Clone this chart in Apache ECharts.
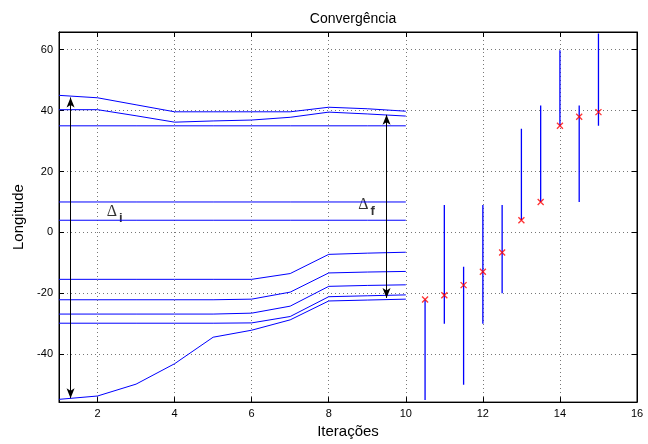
<!DOCTYPE html>
<html><head><meta charset="utf-8">
<script src="https://cdn.jsdelivr.net/npm/echarts@6/dist/echarts.min.js"></script>
<style>html,body{margin:0;padding:0;background:#fff}#c{width:648px;height:444px}</style>
</head><body><div id="c"></div>
<script>
// ---- data ----
var iterations = [1, 2, 3, 4, 5, 6, 7, 8, 9, 10];
var line1 = [45.0, 44.2, 41.9, 39.6, 39.6, 39.6, 39.6, 41.1, 40.6, 39.8];
var line2 = [40.3, 40.3, 38.3, 36.2, 36.6, 36.9, 37.8, 39.5, 38.9, 38.2];
var line3 = [35, 35, 35, 35, 35, 35, 35, 35, 35, 35];
var line4 = [10, 10, 10, 10, 10, 10, 10, 10, 10, 10];
var line5 = [4, 4, 4, 4, 4, 4, 4, 4, 4, 4];
var line6 = [-15.4, -15.4, -15.4, -15.4, -15.4, -15.4, -13.5, -7.2, -6.8, -6.5];
var line7 = [-22.1, -22.1, -22.1, -22.1, -22.1, -21.9, -19.6, -13.3, -13.0, -12.8];
var line8 = [-26.8, -26.8, -26.8, -26.8, -26.8, -26.5, -24.2, -17.7, -17.4, -17.2];
var line9 = [-29.8, -29.8, -29.8, -29.8, -29.8, -29.7, -27.6, -21.1, -20.8, -20.5];
var line10 = [-54.8, -53.7, -49.8, -43.1, -34.4, -32.1, -28.7, -22.5, -22.2, -21.9];

var finalX = [10.5, 11, 11.5, 12, 12.5, 13, 13.5, 14, 14.5, 15];
var finalY = [-22.0, -20.6, -17.3, -12.9, -6.6, 4.0, 10.0, 35.0, 38.0, 39.5];
var barLow = [-55.0, -30.0, -50.0, -30.0, -20.0, 4.0, 10.0, 35.0, 10.0, 35.0];
var barHigh = [-22.0, 9.0, -11.3, 9.0, 9.0, 34.0, 41.7, 59.8, 41.7, 65.3];

var deltaI = {x: 1.3, top: 44.3, bottom: -54.4, labelX: 2.34, labelY: 7.3};
var deltaF = {x: 9.5, top: 38.6, bottom: -21.5, labelX: 8.88, labelY: 9.6};

var xTicks = [2, 4, 6, 8, 10, 12, 14, 16];
var yTicks = [-40, -20, 0, 20, 40, 60];
var xRange = [1, 16];
var yRange = [-55.7, 65.8];

// ---- chart ----
var FONT = '"Liberation Sans", Arial, sans-serif';
var BLUE = '#0000ff';
var lines = [line1, line2, line3, line4, line5, line6, line7, line8, line9, line10];
var series = [];
lines.forEach(function (arr) {
  series.push({
    type: 'line', xAxisIndex: 0, yAxisIndex: 0, symbol: 'none', silent: true,
    lineStyle: {color: BLUE, width: 1},
    data: iterations.map(function (x, i) { return [x, arr[i]]; })
  });
});
finalX.forEach(function (x, i) {
  series.push({
    type: 'line', symbol: 'none', silent: true,
    lineStyle: {color: BLUE, width: 1.3},
    data: [[x, barLow[i]], [x, barHigh[i]]]
  });
});
series.push({
  type: 'scatter', silent: true, z: 5,
  symbol: 'path://M0,0L10,10M10,0L0,10', symbolSize: 6,
  itemStyle: {color: 'none', borderColor: '#ff0000', borderWidth: 1.3},
  data: finalX.map(function (x, i) { return [x, finalY[i]]; })
});
function arrow(d) {
  return {
    type: 'line', data: [], silent: true,
    markLine: {
      silent: true, symbol: ['arrow', 'arrow'], symbolSize: [6, 10],
      label: {show: false},
      lineStyle: {color: '#000', width: 1, type: 'solid'},
      data: [[{coord: [d.x, d.top]}, {coord: [d.x, d.bottom]}]]
    }
  };
}
series.push(arrow(deltaI));
series.push(arrow(deltaF));
function deltaLabel(d, sub) {
  return {
    type: 'scatter', symbolSize: 1, silent: true, itemStyle: {color: 'rgba(0,0,0,0)'},
    data: [[d.labelX, d.labelY]],
    label: {
      show: true, position: 'inside', offset: [4, 2],
      formatter: '{a|Δ}{b|' + sub + '}',
      rich: {
        a: {fontFamily: '"Liberation Serif", serif', fontSize: 16, color: '#000', verticalAlign: 'top', lineHeight: 16},
        b: {fontFamily: FONT, fontSize: 13, fontWeight: 'bold', color: '#000', padding: [12, 0, 0, 2], lineHeight: 16}
      }
    }
  };
}
series.push(deltaLabel(deltaI, 'i'));
series.push(deltaLabel(deltaF, 'f'));
// empty series bound to the mirrored axes so they are drawn
series.push({type: 'line', xAxisIndex: 1, yAxisIndex: 1, data: [], silent: true});

function axisLine() { return {show: true, onZero: false, lineStyle: {color: '#000', width: 1}}; }
var option = {
  animation: false,
  backgroundColor: '#fff',
  title: {
    text: 'Convergência', left: 348, top: 7, textAlign: 'center',
    textStyle: {fontFamily: FONT, fontSize: 14, fontWeight: 'normal', color: '#000'}
  },
  grid: {left: 59, right: 11, top: 32, bottom: 41, containLabel: false,
         show: true, borderColor: '#000', borderWidth: 1, backgroundColor: 'transparent'},
  xAxis: [{
    type: 'value', min: xRange[0], max: xRange[1], position: 'bottom',
    name: 'Iterações', nameLocation: 'middle', nameGap: 19,
    nameTextStyle: {fontFamily: FONT, fontSize: 15, color: '#000'},
    axisLine: axisLine(),
    axisTick: {show: true, inside: true, length: 5, customValues: xTicks, lineStyle: {color: '#000'}},
    axisLabel: {customValues: xTicks, fontFamily: FONT, fontSize: 11, color: '#000', margin: 6},
    splitLine: {show: true, lineStyle: {color: '#777', type: [1, 3], width: 1}}
  }, {
    type: 'value', min: xRange[0], max: xRange[1], position: 'top',
    axisLine: axisLine(),
    axisTick: {show: true, inside: true, length: 5, customValues: xTicks, lineStyle: {color: '#000'}},
    axisLabel: {show: false}, splitLine: {show: false}
  }],
  yAxis: [{
    type: 'value', min: yRange[0], max: yRange[1], position: 'left',
    name: 'Longitude', nameLocation: 'middle', nameGap: 32, nameRotate: 90,
    nameTextStyle: {fontFamily: FONT, fontSize: 15, color: '#000'},
    axisLine: axisLine(),
    axisTick: {show: true, inside: true, length: 5, customValues: yTicks, lineStyle: {color: '#000'}},
    axisLabel: {customValues: yTicks, fontFamily: FONT, fontSize: 11, color: '#000', margin: 6},
    splitLine: {show: true, lineStyle: {color: '#777', type: [1, 3], width: 1}}
  }, {
    type: 'value', min: yRange[0], max: yRange[1], position: 'right',
    axisLine: axisLine(),
    axisTick: {show: true, inside: true, length: 5, customValues: yTicks, lineStyle: {color: '#000'}},
    axisLabel: {show: false}, splitLine: {show: false}
  }],
  series: series
};
var chart = echarts.init(document.getElementById('c'), null, {renderer: 'canvas'});
chart.setOption(option);
</script>
</body></html>
